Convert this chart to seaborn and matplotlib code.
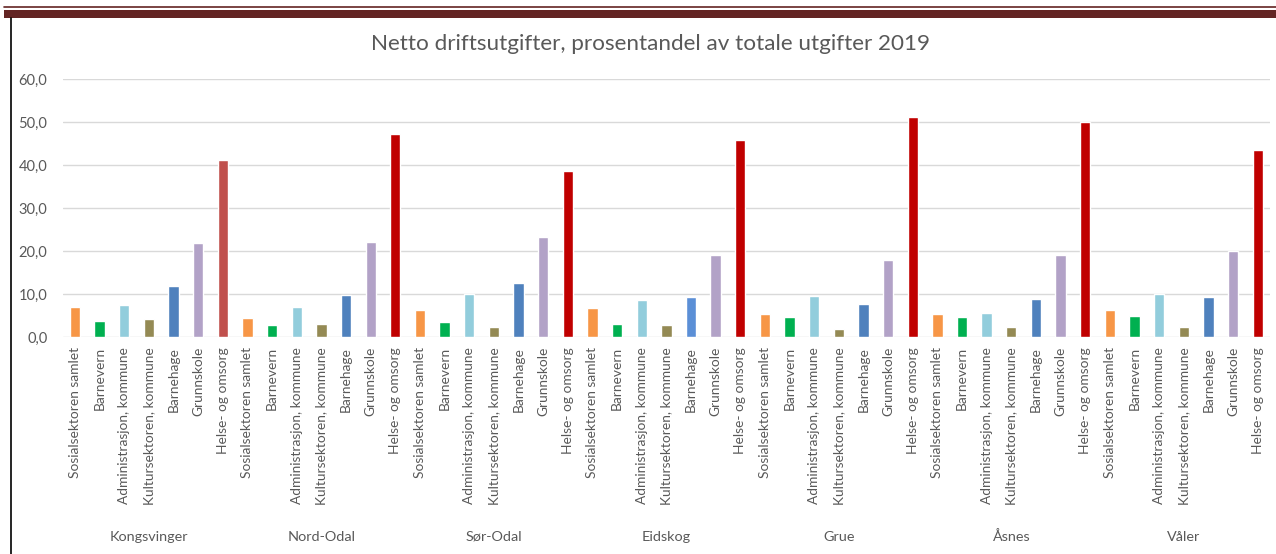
import seaborn as sns
import pandas as pd
import matplotlib.pyplot as plt
from matplotlib.patches import Rectangle
from matplotlib.lines import Line2D
import matplotlib.transforms as mtransforms

kommuner = ["Kongsvinger", "Nord-Odal", "Sør-Odal", "Eidskog", "Grue", "Åsnes", "Våler"]
kategorier = ["Sosialsektoren samlet", "Barnevern", "Administrasjon, kommune",
              "Kultursektoren, kommune", "Barnehage", "Grunnskole", "Helse- og omsorg"]

sosial = [7.1, 4.4, 6.3, 6.9, 5.3, 5.3, 6.3]
barnevern = [3.8, 2.9, 3.5, 3.2, 4.7, 4.7, 5.0]
administrasjon = [7.4, 7.1, 10.1, 8.7, 9.6, 5.6, 10.1]
kultur = [4.2, 3.2, 2.3, 2.9, 2.0, 2.3, 2.3]
barnehage = [12.0, 9.9, 12.7, 9.3, 7.8, 9.0, 9.3]
grunnskole = [21.8, 22.1, 23.3, 19.1, 17.9, 19.1, 20.0]
helse = [41.1, 47.2, 38.7, 45.9, 51.2, 50.0, 43.5]

farger = ["#F79646", "#00B050", "#92CDDC", "#948A54", "#4F81BD", "#B2A2C7", "#C00000"]

serier = [sosial, barnevern, administrasjon, kultur, barnehage, grunnskole, helse]
rows = []
for i, k in enumerate(kommuner):
    for j, kat in enumerate(kategorier):
        rows.append({"key": f"{k}|{kat}", "Kommune": k, "Kategori": kat, "Verdi": serier[j][i]})
df = pd.DataFrame(rows)

palette = [farger[kategorier.index(c)] for c in df["Kategori"]]
palette[6] = "#C0504D"  # first Helse bar is lighter in the original
palette[25] = "#5B8FD6"

sns.set_style("white")
plt.rcParams['font.family'] = ['Lato', 'DejaVu Sans']
grey = "#595959"

fig = plt.figure(figsize=(12.76, 5.54), dpi=100)
ax = fig.add_axes([62.7 / 1276, (554 - 337.3) / 554, (1270 - 62.7) / 1276, 258.3 / 554])

sns.barplot(data=df, x="key", y="Verdi", hue="key", palette=palette, dodge=False,
            legend=False, width=0.42, ax=ax, saturation=1)

ax.set_ylim(0, 60)
ax.set_xlim(-0.5, len(df) - 0.5)
ax.set_yticks(range(0, 61, 10))
ax.set_yticklabels([f"{v},0" for v in range(0, 61, 10)], fontsize=10.5, color=grey)
ax.set_xticks(range(len(df)))
ax.set_xticklabels(df["Kategori"], rotation=90, fontsize=9.9, color=grey, va="top")
ax.tick_params(axis="x", length=0, pad=7)
ax.tick_params(axis="y", length=0, pad=11)
ax.grid(axis="y", color="#D9D9D9", linewidth=1)
ax.set_axisbelow(True)
for s in ax.spines.values():
    s.set_visible(False)
ax.set_xlabel("")
ax.set_ylabel("")

trans = mtransforms.blended_transform_factory(ax.transData, ax.transAxes)
for i, k in enumerate(kommuner):
    ax.text(i * 7 + 3, -0.773, k, transform=trans, ha="center", va="center",
            fontsize=10.4, color=grey)

fig.text(650 / 1276, 1 - 44 / 554, "Netto driftsutgifter, prosentandel av totale utgifter 2019",
         ha="center", va="center", fontsize=16.2, color=grey)

# frame decorations from the original screenshot
fig.add_artist(Rectangle((4 / 1276, 1 - 18 / 554), 1, 8.5 / 554, transform=fig.transFigure,
                         facecolor="#632423", edgecolor="none"))
fig.add_artist(Line2D([4 / 1276, 1], [1 - 7 / 554, 1 - 7 / 554], transform=fig.transFigure,
                      color="#632423", linewidth=1.2))
fig.add_artist(Line2D([10.5 / 1276, 10.5 / 1276], [0.0, 1 - 18 / 554], transform=fig.transFigure,
                      color="black", linewidth=1.2))

plt.savefig("out.png", dpi=100)
plt.close()
